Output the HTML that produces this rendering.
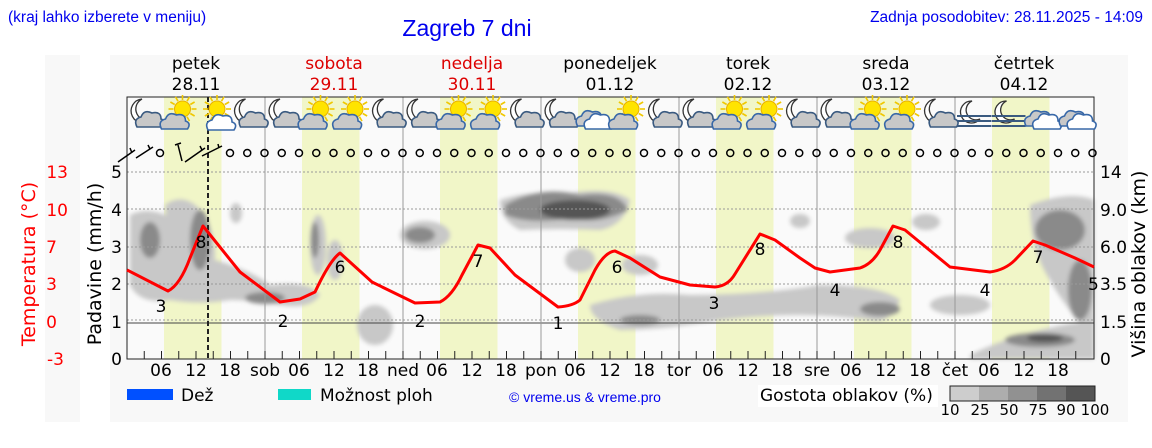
<!DOCTYPE html>
<html><head><meta charset="utf-8"><style>
body{margin:0;background:#fff;width:1152px;height:443px;overflow:hidden}
svg text{font-family:"DejaVu Sans",sans-serif}
</style></head><body>
<svg width="1152" height="443" viewBox="0 0 1152 443" xmlns="http://www.w3.org/2000/svg">
<defs><filter id="bl" x="-20%" y="-20%" width="140%" height="140%"><feGaussianBlur stdDeviation="2"/></filter></defs>
<rect x="45" y="55" width="35" height="367" fill="#f8f8f8"/>
<rect x="110" y="55" width="1018" height="367" fill="#f8f8f8"/>
<text x="8" y="22" font-size="15.5" fill="#0000ee" style="font-family:'Liberation Sans',sans-serif">(kraj lahko izberete v meniju)</text>
<text x="467" y="36" font-size="23" fill="#0000ee" text-anchor="middle" style="font-family:'Liberation Sans',sans-serif">Zagreb 7 dni</text>
<text x="1143" y="22" font-size="15.5" fill="#0000ee" text-anchor="end" style="font-family:'Liberation Sans',sans-serif">Zadnja posodobitev: 28.11.2025 - 14:09</text>
<g font-size="17" text-anchor="middle">
<text x="196" y="69">petek</text><text x="196" y="90">28.11</text>
<text x="334" y="69" fill="#dd0000">sobota</text><text x="334" y="90" fill="#dd0000">29.11</text>
<text x="472" y="69" fill="#dd0000">nedelja</text><text x="472" y="90" fill="#dd0000">30.11</text>
<text x="610" y="69">ponedeljek</text><text x="610" y="90">01.12</text>
<text x="748" y="69">torek</text><text x="748" y="90">02.12</text>
<text x="886" y="69">sreda</text><text x="886" y="90">03.12</text>
<text x="1024" y="69">četrtek</text><text x="1024" y="90">04.12</text>
</g>
<rect x="127" y="97" width="967" height="262" fill="#fafafa"/>
<g fill="#f1f6c8">
<rect x="164" y="97" width="57.5" height="262"/><rect x="302" y="97" width="57.5" height="262"/><rect x="440" y="97" width="57.5" height="262"/><rect x="578" y="97" width="57.5" height="262"/><rect x="716" y="97" width="57.5" height="262"/><rect x="854" y="97" width="57.5" height="262"/><rect x="992" y="97" width="57.5" height="262"/>
</g>
<g filter="url(#bl)">
<g fill="#c8c8c8">
<path d="M130 215 Q150 205 175 220 Q190 240 215 260 Q250 270 270 285 Q310 280 320 295 Q310 310 280 305 Q250 300 230 300 Q200 305 170 300 Q140 305 130 285Z"/>
<path d="M165 205 Q185 190 205 215 Q225 260 205 280 Q180 270 170 250Z"/>
<ellipse cx="236" cy="213" rx="6" ry="10"/>
<ellipse cx="318" cy="245" rx="8" ry="30"/>
<ellipse cx="335" cy="260" rx="8" ry="20"/>
<ellipse cx="425" cy="235" rx="25" ry="14"/>
<ellipse cx="375" cy="325" rx="18" ry="20"/>
<path d="M500 200 Q530 190 560 195 Q610 185 630 200 Q625 225 600 230 Q560 228 520 230 Q500 220 500 200Z"/>
<ellipse cx="580" cy="260" rx="15" ry="12"/>
<path d="M590 305 Q640 290 690 295 Q760 295 820 285 Q880 285 900 300 Q890 325 870 320 Q800 310 720 320 Q660 330 620 330 Q590 320 590 305Z"/>
<ellipse cx="640" cy="265" rx="18" ry="10"/>
<ellipse cx="800" cy="221" rx="10" ry="7"/>
<ellipse cx="870" cy="238" rx="25" ry="10"/>
<ellipse cx="926" cy="222" rx="14" ry="8"/>
<ellipse cx="960" cy="305" rx="30" ry="10"/>
<path d="M1030 205 Q1070 190 1094 200 L1094 340 Q1060 300 1050 280 Q1030 250 1030 205Z"/>
<path d="M970 355 Q1020 330 1094 320 L1094 359 L970 359Z"/>
</g>
<g fill="#8a8a8a">
<ellipse cx="200" cy="240" rx="10" ry="30"/>
<ellipse cx="150" cy="240" rx="10" ry="18"/>
<ellipse cx="265" cy="298" rx="20" ry="6"/>
<ellipse cx="315" cy="240" rx="4" ry="18"/>
<path d="M505 205 Q540 185 580 195 Q620 190 628 210 Q600 225 570 218 Q530 225 505 215Z"/>
<ellipse cx="1060" cy="230" rx="25" ry="20"/>
<ellipse cx="1080" cy="290" rx="12" ry="30"/>
<ellipse cx="1040" cy="340" rx="35" ry="7"/>
<ellipse cx="880" cy="309" rx="20" ry="7"/>
<ellipse cx="420" cy="235" rx="15" ry="8"/>
<ellipse cx="640" cy="320" rx="20" ry="5"/>
</g>
<g fill="#555"><ellipse cx="575" cy="210" rx="35" ry="10"/><ellipse cx="1045" cy="338" rx="18" ry="4"/></g>
</g>
<g stroke="#999" stroke-width="1" stroke-dasharray="2,2">
<line x1="127" y1="172" x2="1094" y2="172"/><line x1="127" y1="209" x2="1094" y2="209"/><line x1="127" y1="247" x2="1094" y2="247"/><line x1="127" y1="284" x2="1094" y2="284"/><line x1="127" y1="320" x2="1094" y2="320"/>
</g>
<line x1="127" y1="323" x2="1094" y2="323" stroke="#444"/>
<g stroke="#999"><line x1="265" y1="97" x2="265" y2="359"/><line x1="403" y1="97" x2="403" y2="359"/><line x1="541" y1="97" x2="541" y2="359"/><line x1="679" y1="97" x2="679" y2="359"/><line x1="817" y1="97" x2="817" y2="359"/><line x1="955" y1="97" x2="955" y2="359"/></g>
<rect x="127" y="97" width="967" height="262" fill="none" stroke="#222"/>
<line x1="208" y1="97" x2="208" y2="359" stroke="#222" stroke-width="2" stroke-dasharray="5,3"/>
<path d="M127 270 L168 291 Q180 285 190 258 L203 226 L240 272 L280 302 L300 299 L315 292 Q330 260 340 253 L372 282 L415 303 L440 302 Q452 296 462 275 L478 245 L490 248 L515 275 L558 307 Q573 306 580 300 L595 270 Q605 252 615 251 L630 258 L660 277 L690 285 L715 287 Q728 286 735 274 L760 234 L775 240 L800 258 L815 268 L830 272 L860 268 Q872 264 880 250 L893 226 L905 230 L950 267 L990 272 Q1005 270 1015 260 L1033 241 L1045 245 L1075 258 L1094 267" fill="none" stroke="#ff0000" stroke-width="3" stroke-linejoin="round"/>
<g font-size="17" text-anchor="middle">
<text x="161" y="312">3</text><text x="201" y="248">8</text><text x="283" y="327">2</text><text x="340" y="273">6</text><text x="420" y="327">2</text><text x="478" y="267">7</text><text x="558" y="329">1</text><text x="617" y="273">6</text><text x="714" y="309">3</text><text x="760" y="255">8</text><text x="835" y="296">4</text><text x="898" y="248">8</text><text x="985" y="296">4</text><text x="1038" y="263">7</text>
</g>
<g stroke="#000" stroke-width="1.5" fill="none">
<path d="M118 162 L135 150 M132 153 L130 148 M136 158 L153 147 M150 149 L148 145"/>
<path d="M178 145 L182 161 M175 145 L181 143 M185 162 L205 148 M202 150 L200 146 M202 156 L222 146 M219 148 L218 144"/>
<circle cx="160" cy="153" r="3.5"/>
</g>
<g stroke="#000" stroke-width="1.5" fill="none" id="circs"></g>
<g stroke="#222" id="ticks"></g>
<g font-size="17" text-anchor="middle">
<text x="161" y="376">06</text><text x="196" y="376">12</text><text x="230" y="376">18</text><text x="265" y="376">sob</text>
<text x="299" y="376">06</text><text x="334" y="376">12</text><text x="368" y="376">18</text><text x="403" y="376">ned</text>
<text x="437" y="376">06</text><text x="472" y="376">12</text><text x="506" y="376">18</text><text x="541" y="376">pon</text>
<text x="575" y="376">06</text><text x="610" y="376">12</text><text x="644" y="376">18</text><text x="679" y="376">tor</text>
<text x="713" y="376">06</text><text x="748" y="376">12</text><text x="782" y="376">18</text><text x="817" y="376">sre</text>
<text x="851" y="376">06</text><text x="886" y="376">12</text><text x="920" y="376">18</text><text x="955" y="376">čet</text>
<text x="989" y="376">06</text><text x="1024" y="376">12</text><text x="1058" y="376">18</text>
</g>
<g font-size="17" text-anchor="end">
<text x="122" y="178">5</text><text x="122" y="216">4</text><text x="122" y="253">3</text><text x="122" y="290">2</text><text x="122" y="328">1</text><text x="122" y="365">0</text>
</g>
<g font-size="17" text-anchor="end" fill="#ff0000">
<text x="68" y="178">13</text><text x="68" y="216">10</text><text x="57" y="253">7</text><text x="57" y="290">3</text><text x="57" y="328">0</text><text x="64" y="365">-3</text>
</g>
<g font-size="17">
<text x="1100" y="178">14</text><text x="1100" y="216">9.0</text><text x="1100" y="253">6.0</text><text x="1100" y="290">3.5</text><text x="1100" y="328">1.5</text><text x="1100" y="365">0</text>
<text x="1088" y="290">5</text>
</g>
<text transform="translate(101,264) rotate(-90)" font-size="19" text-anchor="middle">Padavine (mm/h)</text>
<text transform="translate(35,264) rotate(-90)" font-size="19" text-anchor="middle" fill="#ff0000">Temperatura (°C)</text>
<text transform="translate(1145,264) rotate(-90)" font-size="19" text-anchor="middle">Višina oblakov (km)</text>
<g id="icons"></g>
<rect x="127" y="389" width="46" height="11" fill="#0050ff"/>
<text x="181" y="401" font-size="17">Dež</text>
<rect x="278" y="389" width="33" height="11" fill="#10d8c8"/>
<text x="320" y="401" font-size="17">Možnost ploh</text>
<text x="585" y="402" font-size="14" fill="#0000ee" text-anchor="middle" style="font-family:'Liberation Sans',sans-serif">© vreme.us &amp; vreme.pro</text>
<rect x="758" y="385" width="180" height="22" fill="#fff"/>
<text x="760" y="401" font-size="17">Gostota oblakov (%)</text>
<rect x="950" y="386" width="29" height="15" fill="#cdcdcd"/><rect x="979" y="386" width="29" height="15" fill="#adadad"/><rect x="1008" y="386" width="29" height="15" fill="#919191"/><rect x="1037" y="386" width="29" height="15" fill="#727272"/><rect x="1066" y="386" width="29" height="15" fill="#555"/>
<rect x="950" y="386" width="145" height="15" fill="none" stroke="#222"/>
<g font-size="15" text-anchor="middle"><text x="950" y="415">10</text><text x="980" y="415">25</text><text x="1009" y="415">50</text><text x="1038" y="415">75</text><text x="1066" y="415">90</text><text x="1095" y="415">100</text></g>
</svg>
<script>
var ns="http://www.w3.org/2000/svg";
function el(p,t,a){var e=document.createElementNS(ns,t);for(var k in a)e.setAttribute(k,a[k]);p.appendChild(e);return e;}
var c=document.getElementById("circs");
for(var x=230;x<=1095;x+=17.25)el(c,"circle",{cx:x,cy:153,r:3.5});
var t=document.getElementById("ticks");
for(var i=1;i<56;i++){var x=127+i*17.25;el(t,"line",{x1:x,y1:351,x2:x,y2:359});}
var ic=document.getElementById("icons");
var types="mSsmmSSmmSSmmCSmmSSmmSSmffCC".split("");
function cloud(x,y,fill,s){el(ic,"path",{d:"M"+(x-13)+" "+(y+8)+" Q"+(x-17)+" "+(y)+" "+(x-9)+" "+(y-2)+" Q"+(x-6)+" "+(y-10)+" "+(x+2)+" "+(y-6)+" Q"+(x+11)+" "+(y-8)+" "+(x+11)+" "+(y)+" Q"+(x+17)+" "+(y+2)+" "+(x+13)+" "+(y+8)+" Z",fill:fill,stroke:s,"stroke-width":1.6});}
for(var i=0;i<28;i++){var x=146+i*34.5,y=113,k=types[i];
 if(k=="S"||k=="s"){for(var a=0;a<12;a++){var an=a*Math.PI/6;el(ic,"line",{x1:x+2+9*Math.cos(an),y1:y-4+9*Math.sin(an),x2:x+2+14*Math.cos(an),y2:y-4+14*Math.sin(an),stroke:"#f0c800","stroke-width":1.6});}
   el(ic,"circle",{cx:x+2,cy:y-4,r:8,fill:"#ffe400",stroke:"#e8b000"});
   if(k=="S")cloud(x-6,y+8,"#c8c8c8","#3868a8");else cloud(x+6,y+9,"#fff","#3868a8");}
 else if(k=="C"){cloud(x-4,y+5,"#c8c8c8","#3868a8");cloud(x+4,y+8,"#fff","#3868a8");}
 else if(k=="f"){el(ic,"path",{d:"M"+(x-2)+" "+(y-12)+" A11 11 0 1 0 "+(x+6)+" "+(y+6)+" A9 9 0 1 1 "+(x-2)+" "+(y-12)+"Z",fill:"#fff",stroke:"#333","stroke-width":1.3});
   for(var j=0;j<3;j++)el(ic,"line",{x1:x-17,y1:y+3+j*5,x2:x+17,y2:y+3+j*5,stroke:"#3a5a80","stroke-width":2});}
 else{el(ic,"path",{d:"M"+(x-4)+" "+(y-14)+" A12 12 0 1 0 "+(x+6)+" "+(y+6)+" A10 10 0 1 1 "+(x-4)+" "+(y-14)+"Z",fill:"#fff",stroke:"#333","stroke-width":1.3});
   cloud(x+4,y+6,"#c8c8c8","#3a5a80");}
}
</script>
</body></html>
